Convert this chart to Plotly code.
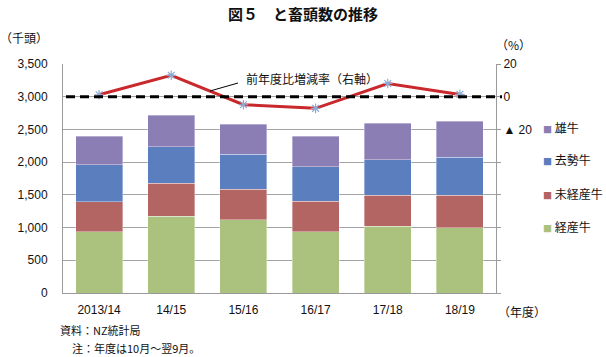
import plotly.graph_objects as go

categories = ["2013/14", "14/15", "15/16", "16/17", "17/18", "18/19"]
keisan = [933, 1172, 1116, 933, 1020, 998]        # 経産牛
mikeisan = [460, 502, 471, 467, 476, 498]         # 未経産牛
kyosei = [567, 563, 533, 533, 543, 578]           # 去勢牛
oushi = [438, 476, 461, 465, 553, 553]            # 雄牛
change_pct = [1.2, 13.1, -4.9, -7.1, 8.1, 1.4]    # 前年度比増減率

left_ticks = [0, 500, 1000, 1500, 2000, 2500, 3000, 3500]
left_ticktext = ["0", "500", "1,000", "1,500", "2,000", "2,500", "3,000", "3,500"]
right_ticks = [20, 0, -20, -40, -60, -80, -100, -120]
right_ticktext = ["20", "0", "▲ 20", "", "", "", "", ""]

JP = "Noto Sans CJK JP"
NUM = "Liberation Sans, Arial"

W, H = 606, 357
pl, pr, pt, pb = 63, 110, 64, 64
pw, ph = W - pl - pr, H - pt - pb
def px(xp):
    return (xp - pl) / pw
def py(yp):
    return (H - pb - yp) / ph

series = [
    ("経産牛", keisan, "#AAC27D"),
    ("未経産牛", mikeisan, "#B26563"),
    ("去勢牛", kyosei, "#5B7EBF"),
    ("雄牛", oushi, "#8B7EB4"),
]
legend_y = {"雄牛": 127, "去勢牛": 159, "未経産牛": 193, "経産牛": 226}

fig = go.Figure()
for name, vals, col in series:
    fig.add_trace(go.Bar(
        x=categories, y=vals, name=name, marker_color=col,
        marker_line=dict(color="rgba(255,255,255,0.6)", width=0.6),
        showlegend=False,
    ))

fig.add_trace(go.Scatter(
    x=categories, y=change_pct, yaxis="y2", mode="lines+markers",
    line=dict(color="#C9282C", width=3),
    marker=dict(symbol="asterisk-open", size=8, color="#8FA9D4",
                line=dict(color="#8FA9D4", width=1.2)),
    showlegend=False, name="前年度比増減率",
))

annotations = [
    dict(text="<b>図５　と畜頭数の推移</b>", x=px(303), y=py(13), xanchor="center",
         font=dict(family=JP, size=15, color="#111")),
    dict(text="（千頭）", x=px(-2), y=py(38), xanchor="left",
         font=dict(family=JP, size=12, color="#111")),
    dict(text="（%）", x=px(494), y=py(44), xanchor="left",
         font=dict(family=JP, size=12, color="#111")),
    dict(text="（年度）", x=px(496), y=py(311), xanchor="left",
         font=dict(family=JP, size=12, color="#111")),
    dict(text="資料：NZ統計局", x=px(58), y=py(330), xanchor="left",
         font=dict(family=JP, size=11, color="#111")),
    dict(text="注：年度は10月～翌9月。", x=px(70), y=py(348), xanchor="left",
         font=dict(family=JP, size=11, color="#111")),
    dict(text="前年度比増減率（右軸）", x=px(312), y=py(78), xanchor="center",
         font=dict(family=JP, size=12, color="#111")),
]
for name, vals, col in series:
    annotations.append(dict(
        text=f"<span style='color:{col};font-size:9px'>■</span> {name}",
        x=px(541), y=py(legend_y[name]), xanchor="left",
        font=dict(family=JP, size=12, color="#111")))
for a in annotations:
    a.update(xref="paper", yref="paper", yanchor="middle", showarrow=False)

fig.update_layout(
    width=W, height=H,
    margin=dict(l=pl, r=pr, t=pt, b=pb, autoexpand=False),
    paper_bgcolor="white", plot_bgcolor="white",
    barmode="stack", bargap=0.35,
    font=dict(family=JP, size=12, color="black"),
    showlegend=False,
    xaxis=dict(
        showline=True, linecolor="#9A9A9A", linewidth=1,
        tickfont=dict(family=NUM, size=12, color="#111"), ticks="",
        ticklabelstandoff=6, automargin=False,
    ),
    yaxis=dict(
        range=[0, 3500], tickvals=left_ticks, ticktext=left_ticktext,
        showgrid=True, gridcolor="#A3A3A3", gridwidth=1,
        showline=True, linecolor="#9A9A9A", linewidth=1,
        tickfont=dict(family=NUM, size=12, color="#111"), ticks="",
        ticklabelstandoff=12, zeroline=False, automargin=False,
    ),
    yaxis2=dict(
        range=[-120, 20], overlaying="y", side="right",
        tickvals=right_ticks, ticktext=right_ticktext,
        showgrid=False, showline=True, linecolor="#9A9A9A", linewidth=1,
        ticks="outside", ticklen=4, tickcolor="#9A9A9A",
        tickfont=dict(family=NUM, size=12, color="#111"), zeroline=False,
        automargin=False,
    ),
    shapes=[
        dict(type="line", xref="paper", yref="y2", x0=px(66), x1=px(502), y0=0, y1=0,
             line=dict(color="black", width=3, dash="9px,5px")),
        dict(type="line", xref="paper", yref="paper", x0=px(210), y0=py(91),
             x1=px(238), y1=py(83), line=dict(color="black", width=1)),
    ],
    annotations=annotations,
)

fig.write_html(
    "out.html",
    config={"displayModeBar": False},
    post_script="document.body.style.margin='0';document.body.style.padding='0';",
)
